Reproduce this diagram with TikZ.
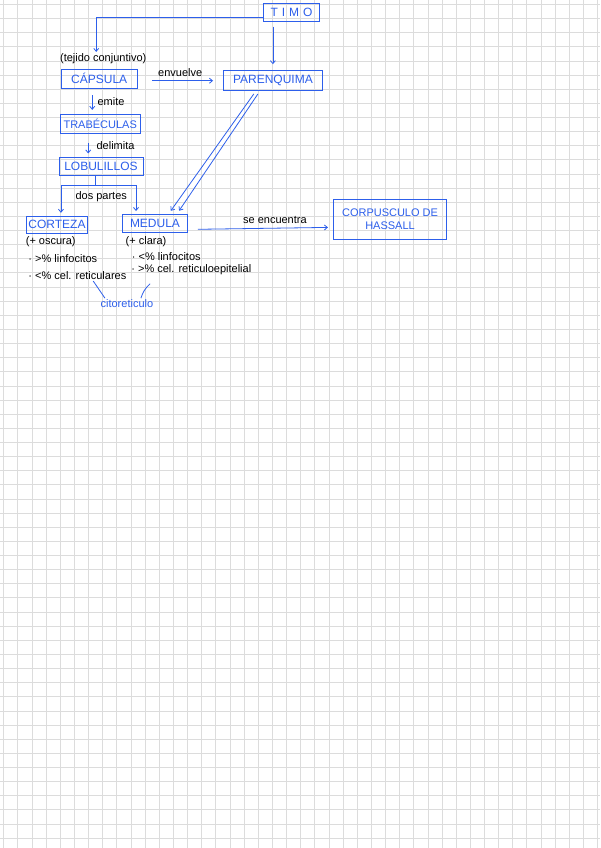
\documentclass[tikz,border=0pt]{standalone}
\usepackage{fontspec}
\setmainfont{Liberation Sans}
\newfontfamily\widefont[LetterSpace=33]{Liberation Sans}
\usetikzlibrary{arrows.meta}
\definecolor{ink}{RGB}{45,95,235}
\definecolor{gridgray}{RGB}{220,220,220}

\begin{document}
\begin{tikzpicture}[
	x=1pt, y=-1pt,
	concept/.style={
		draw=ink,
		text=ink,
		rectangle,
		align=center,
		inner sep=0pt,
		line width=0.8pt,
		font=\fontsize{12}{14}\selectfont
	},
	relation/.style={draw=ink,line width=0.8pt,-{Straight Barb[length=3pt,width=5pt]}},
	link/.style={draw=ink,line width=0.8pt},
	note/.style={font=\fontsize{11}{13}\selectfont,inner sep=1pt},
	gridline/.style={draw=gridgray,line width=0.6pt}
	]
	% hoja cuadriculada
	\fill[white] (0,0) rectangle (600,848);
	\foreach \i in {0,...,42}
		\draw[gridline] ({3.3+14.15*\i},0) -- ({3.3+14.15*\i},848);
	\foreach \j in {0,...,59}
		\draw[gridline] (0,{4+14.14*\j}) -- (600,{4+14.14*\j});
	\useasboundingbox (0,0) rectangle (600,848);
	
	\node[concept,minimum width=56pt,minimum height=17.7pt,font=\widefont\fontsize{12}{14}\selectfont] (timo) at (291.5,12.2) {TIMO};
	\node[concept,minimum width=99pt,minimum height=19.7pt] (parenquima) at (272.8,80.2) {PARENQUIMA};
	\node[concept,minimum width=75.4pt,minimum height=18.4pt] (capsula) at (99,78.5) {CÁPSULA};
	\node[concept,minimum width=80pt,minimum height=19.3pt,font=\fontsize{11}{13}\selectfont] (trabeculas) at (100,123.7) {TRABÉCULAS};
	\node[concept,minimum width=84pt,minimum height=17.6pt] (lobulillos) at (100.7,166.5) {LOBULILLOS};
	\node[concept,minimum width=61.3pt,minimum height=17.3pt] (corteza) at (56.7,224.7) {CORTEZA};
	\node[concept,minimum width=65pt,minimum height=18.4pt] (medula) at (154.8,223.5) {MEDULA};
	\node[concept,minimum width=113.4pt,minimum height=40.3pt,font=\fontsize{11}{13}\selectfont] (hassall) at (390,219.2) {CORPUSCULO DE\\HASSALL};
	
	\node[note] (tejido) at (103,58) {(tejido conjuntivo)};
	\node[note] (partes) at (101,196.7) {dos partes};
	\node[note] (oscura) at (50.5,241.7) {(+ oscura)};
	\node[note,anchor=west] (linfocitos1) at (27,258.7) {· >\% linfocitos};
	\node[note,anchor=west] (reticulares) at (27,275.7) {· <\% cel. reticulares};
	\node[note] (clara) at (145.8,241.7) {(+ clara)};
	\node[note,anchor=west] (linfocitos2) at (130.5,256.7) {· <\% linfocitos};
	\node[note,anchor=west] (epitelial) at (130,269.3) {· >\% cel. reticuloepitelial};
	\node[note,text=ink] (citoreticulo) at (126.7,303.3) {citoreticulo};
	\coordinate (split) at (95,185.7);
	
	\draw[relation] ([yshift=-5pt]timo.west) -| ([xshift=-7pt]tejido.north);
	\draw[relation,shorten <=5pt,shorten >=6pt] (parenquima.north |- timo.south) -- (parenquima.north);
	\draw[relation,shorten <=15pt,shorten >=10pt] ([yshift=-2pt]capsula.east) -- ([yshift=-2pt]capsula.east -| parenquima.west)
		node[midway,above=3pt,note]{envuelve};
	\draw[relation,shorten <=7pt,shorten >=4pt] ([xshift=-7pt]capsula.south) -- ([xshift=-7pt]capsula.south |- trabeculas.north)
		node[midway,right=4pt,note]{emite};
	\draw[relation,shorten <=9pt,shorten >=4pt] ([xshift=-12pt]trabeculas.south) -- ([xshift=-12pt]trabeculas.south |- lobulillos.north)
		node[midway,right=7pt,note]{delimita};
	\draw[link] (lobulillos.south -| split) -- (split);
	\draw[relation,shorten >=3pt] (split) -| ([xshift=4pt]corteza.north);
	\draw[relation,shorten >=3pt] (split) -| ([xshift=-19pt]medula.north);
	\draw[relation,shorten <=4pt,shorten >=4pt] ([xshift=-16.8pt]parenquima.south) -- ([xshift=13.5pt]medula.north);
	\draw[relation,shorten <=4pt,shorten >=4pt] ([xshift=-12.8pt]parenquima.south) -- ([xshift=21.9pt]medula.north);
	\draw[relation,shorten <=10pt,shorten >=5pt] ([yshift=-5.8pt]medula.east) -- ([yshift=-8pt]hassall.west)
		node[pos=0.6,above=3pt,note]{se encuentra};
	\draw[link] ([xshift=66pt]reticulares.south west) -- ([xshift=-22pt]citoreticulo.north);
	\draw[link] ([xshift=20pt,yshift=-8pt]epitelial.south west) to[bend right=15] ([xshift=14pt]citoreticulo.north);
\end{tikzpicture}
\end{document}
